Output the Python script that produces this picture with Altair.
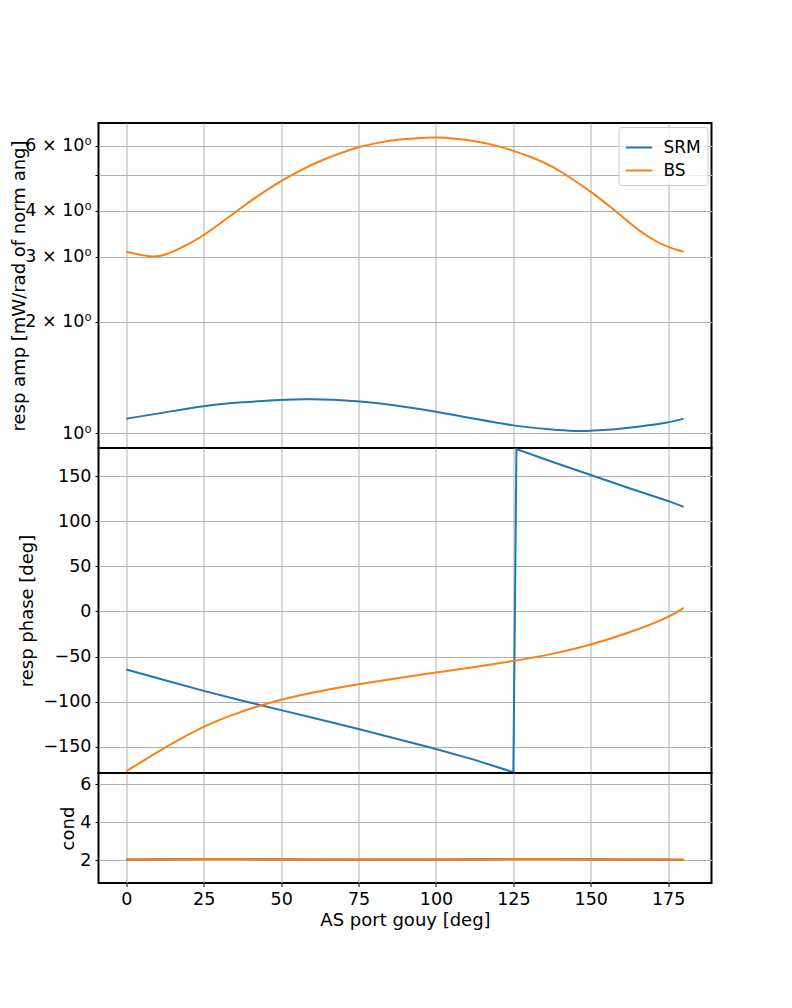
import altair as alt
import pandas as pd

# ---- data ----
x_bs_amp = [0, 6.25, 8.5, 12.5, 18.75, 25, 31.25, 37.5, 43.75, 50, 56.25, 62.5, 68.75, 75,
            81.25, 87.5, 93.75, 100, 106.25, 112.5, 118.75, 125, 131.25, 137.5, 143.75, 150,
            156.25, 162.5, 168.75, 175, 180]
bs_amp = [3.10, 3.02, 3.00, 3.03, 3.20, 3.43, 3.75, 4.10, 4.47, 4.82, 5.16, 5.46, 5.72, 5.96,
          6.12, 6.24, 6.30, 6.33, 6.28, 6.19, 6.04, 5.82, 5.58, 5.29, 4.90, 4.51,
          4.11, 3.71, 3.38, 3.18, 3.10]

x_srm_amp = [0, 12.5, 25, 37.5, 50, 58, 75, 87.5, 100, 112.5, 125, 137.5, 145, 150, 162.5, 175, 180]
srm_amp = [1.094, 1.137, 1.186, 1.213, 1.230, 1.238, 1.223, 1.188, 1.144, 1.094, 1.045, 1.022,
           1.011, 1.013, 1.032, 1.065, 1.094]

x_srm_phase = [0, 12.5, 25, 37.5, 50, 62.5, 75, 87.5, 100, 112.5, 125, 126, 137.5, 150, 162.5, 175, 180]
srm_phase = [-64.3, -76.1, -87.9, -98.9, -109.2, -119.5, -130.1, -141.2, -152.2, -164.3, -177.9,
             179.8, 165.8, 151.1, 136.4, 122.4, 115.8]

x_bs_phase = [0, 12.5, 25, 37.5, 50, 62.5, 75, 87.5, 100, 112.5, 125, 137.5, 150, 162.5, 175, 180]
bs_phase = [-176.8, -150.4, -126.5, -110.0, -97.0, -87.9, -80.5, -73.9, -67.6, -61.4, -54.8,
            -47.4, -37.0, -23.5, -7.0, 4.0]

x_cond = [0, 12.5, 25, 37.5, 50, 62.5, 75, 87.5, 100, 112.5, 125, 137.5, 150, 162.5, 175, 180]
srm_cond = [2.03, 2.04, 2.05, 2.05, 2.04, 2.03, 2.02, 2.02, 2.03, 2.04, 2.05, 2.05, 2.04, 2.03, 2.02, 2.02]
bs_cond = [2.03, 2.04, 2.05, 2.05, 2.04, 2.03, 2.02, 2.02, 2.03, 2.04, 2.05, 2.05, 2.04, 2.03, 2.02, 2.02]

series = ["SRM", "BS"]
colors = ["#1f77b4", "#ff7f0e"]
x_ticks = [0, 25, 50, 75, 100, 125, 150, 175]
amp_ticks = [1, 2, 3, 4, 5, 6]
phase_ticks = [-150, -100, -50, 0, 50, 100, 150]
cond_ticks = [2, 4, 6]

FONT = "DejaVu Sans"
FS = 17.5
TFS = 18
W = 613


def frame(xs, ys, name):
    return pd.DataFrame({"x": xs, "y": ys, "series": name})


def x_enc(show):
    sc = alt.Scale(domain=[-9, 189], nice=False, zero=False)
    if show:
        ax = alt.Axis(values=x_ticks, title="AS port gouy [deg]", grid=True, ticks=True,
                      labels=True, titlePadding=3)
    else:
        ax = alt.Axis(values=x_ticks, title=None, grid=True, ticks=False, labels=False)
    return alt.X("x:Q", scale=sc, axis=ax)


def panel(d_srm, d_bs, y_scale, y_axis, height, legend, show_x, interp_srm="basis"):
    color = alt.Color("series:N", scale=alt.Scale(domain=series, range=colors), legend=legend)
    layers = []
    for d, interp in ((d_srm, interp_srm), (d_bs, "basis")):
        layers.append(
            alt.Chart(d).mark_line(strokeWidth=2, clip=True, interpolate=interp).encode(
                x=x_enc(show_x),
                y=alt.Y("y:Q", scale=y_scale, axis=y_axis),
                color=color,
            )
        )
    return alt.layer(*layers).properties(width=W, height=height)


amp_axis = alt.Axis(
    values=amp_ticks,
    title="resp amp [mW/rad of norm ang]",
    labelExpr="datum.value == 1 ? '10⁰' : (datum.value == 5 ? '' : datum.value + ' × 10⁰')",
    titlePadding=-3.5,
)
phase_axis = alt.Axis(
    values=phase_ticks,
    title="resp phase [deg]",
    labelExpr="replace(datum.label, '-', '−')",
)
cond_axis = alt.Axis(values=cond_ticks, title="cond", titlePadding=2)

legend = alt.Legend(
    title=None,
    orient="top-right",
    offset=4,
    symbolType="stroke",
    symbolSize=700,
    symbolStrokeWidth=2,
    labelFont=FONT,
    labelFontSize=17,
    labelColor="black",
    labelOffset=10,
    padding=6,
    rowPadding=-4,
    strokeColor="#cccccc",
    fillColor="rgba(255,255,255,0.8)",
    cornerRadius=3,
)

top = panel(frame(x_srm_amp, srm_amp, "SRM"), frame(x_bs_amp, bs_amp, "BS"),
            alt.Scale(type="log", domain=[0.911, 6.92], nice=False, zero=False),
            amp_axis, 325, legend, False)
mid = panel(frame(x_srm_phase, srm_phase, "SRM"), frame(x_bs_phase, bs_phase, "BS"),
            alt.Scale(domain=[-178.8, 181], nice=False, zero=False),
            phase_axis, 325, None, False, interp_srm="linear")
bot = panel(frame(x_cond, srm_cond, "SRM"), frame(x_cond, bs_cond, "BS"),
            alt.Scale(domain=[0.79, 6.58], nice=False, zero=False),
            cond_axis, 110, None, True)

chart = (
    alt.vconcat(top, mid, bot, spacing=0, bounds="flush")
    .resolve_scale(x="independent", y="independent", color="independent")
    .properties(padding={"left": 0.5, "top": 114, "right": 5, "bottom": 5}, background="white")
    .configure(font=FONT)
    .configure_view(stroke="black", strokeWidth=2)
    .configure_axis(
        gridColor="#b0b0b0",
        gridWidth=1,
        tickColor="black",
        tickSize=3.5,
        tickWidth=1,
        domain=False,
        labelFont=FONT,
        labelFontSize=FS,
        labelColor="black",
        labelPadding=4,
        titleFont=FONT,
        titleFontSize=TFS,
        titleFontWeight="normal",
        titleColor="black",
        titlePadding=6,
    )
)

chart.save("out.html", embed_options={"renderer": "svg", "actions": False})
